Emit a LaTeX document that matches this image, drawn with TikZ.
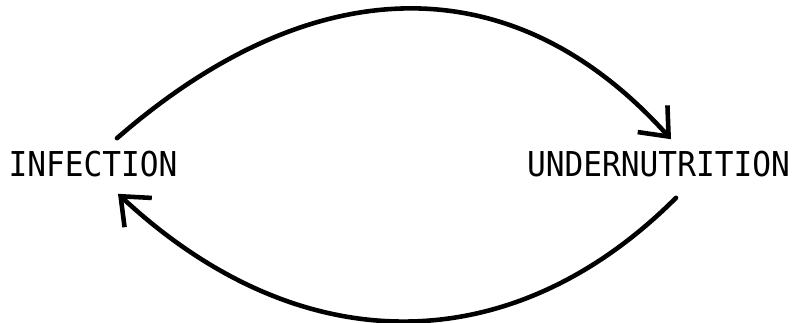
\documentclass[tikz,border=0pt]{standalone}
\usepackage{fontspec}
\usetikzlibrary{arrows.meta, calc, positioning}
\newfontfamily\labelfont[FakeStretch=0.91]{DejaVu Sans Mono}
\tikzset{
  >={Straight Barb[length=0.48cm, width=0.8cm]},
  every picture/.style={line cap=round, line join=round},
  state/.style={font=\labelfont\fontsize{19.5}{20}\selectfont, inner sep=0pt},
  cycle/.style={->, line width=2.6pt},
}

\begin{document}
\begin{tikzpicture}[x=0.02cm, y=-0.02cm]
  \useasboundingbox (0,0) rectangle (800,322);
  % the two states
  \node[state] (inf) at (93,164.5) {INFECTION};
  \node[state, right=6.98cm of inf] (und) {UNDERNUTRITION};
  % arc ends
  \coordinate (a1) at ($(inf.north)+(24,-13)$);
  \coordinate (a2) at ($(und.north)+(12.5,-12)$);
  \coordinate (b1) at ($(und.south)+(17.5,20)$);
  \coordinate (b2) at ($(inf.south)+(25,16)$);
  % vicious circle
  \draw[cycle] (a1) .. controls +(193,-168) and +(-160,-178) .. (a2);
  \draw[cycle] (b1) .. controls +(-162,162) and +(185,172) .. (b2);
\end{tikzpicture}
\end{document}
